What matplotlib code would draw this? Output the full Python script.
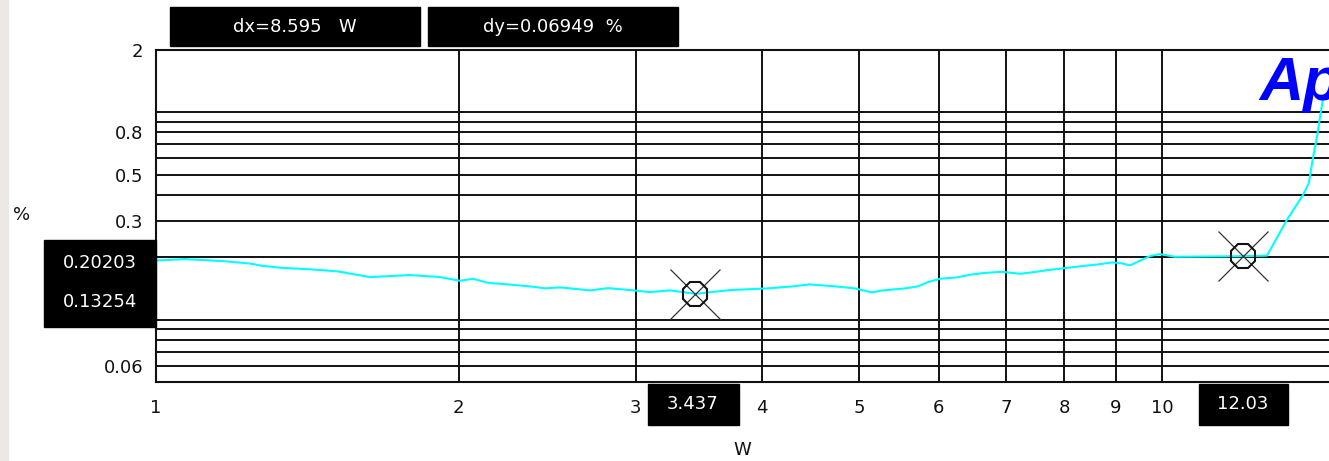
import matplotlib
matplotlib.use('Agg')
import matplotlib.pyplot as plt
from matplotlib.patches import Rectangle

# ---------------- data ----------------
power_w = [1.000, 1.069, 1.166, 1.240, 1.275, 1.331, 1.429, 1.517, 1.559, 1.632,
           1.789, 1.916, 2.005, 2.066, 2.138, 2.259, 2.371, 2.436, 2.521, 2.700,
           2.814, 2.960, 3.098, 3.244, 3.437, 3.721, 4.058, 4.297, 4.459, 4.732,
           4.953, 5.045, 5.148, 5.281, 5.553, 5.721, 5.853, 6.017, 6.255, 6.444,
           6.640, 6.934, 7.225, 7.462, 7.705, 8.011, 8.328, 8.640, 8.922, 9.126,
           9.295, 9.509, 9.730, 9.954, 10.30, 12.03, 12.72, 13.31, 13.81, 14.00,
           14.13, 14.26, 14.45]
thd_pct = [0.1925, 0.1956, 0.1913, 0.1861, 0.1816, 0.1776, 0.1744, 0.1706, 0.1665, 0.1602,
           0.1638, 0.1602, 0.1537, 0.1572, 0.1503, 0.1471, 0.1439, 0.1413, 0.1429, 0.1382,
           0.1417, 0.1387, 0.1356, 0.1382, 0.1330, 0.1387, 0.1413, 0.1445, 0.1477, 0.1445,
           0.1413, 0.1382, 0.1352, 0.1382, 0.1413, 0.1445, 0.1515, 0.1572, 0.1597, 0.1644,
           0.1675, 0.1699, 0.1661, 0.1693, 0.1731, 0.1770, 0.1810, 0.1844, 0.1886, 0.1865,
           0.1824, 0.1920, 0.2022, 0.2068, 0.2007, 0.2020, 0.2033, 0.3016, 0.398, 0.455,
           0.600, 0.758, 1.14]

cursor_x = [3.437, 12.03]
cursor_y = [0.13254, 0.20203]
cursor_x_labels = ['3.437', '12.03']
cursor_y_labels = ['0.20203', '0.13254']
dx_text = 'dx=8.595   W'
dy_text = 'dy=0.06949  %'

x_tick_vals = [1, 2, 3, 4, 5, 6, 7, 8, 9, 10]
x_tick_labels = ['1', '2', '3', '4', '5', '6', '7', '8', '9', '10']
y_tick_vals = [2, 0.8, 0.5, 0.3, 0.06]
y_tick_labels = ['2', '0.8', '0.5', '0.3', '0.06']
y_grid_vals = [0.07, 0.08, 0.09, 0.1, 0.2, 0.4, 0.6, 0.7, 0.9, 1.0]
x_label = 'W'
y_label = '%'

# ---------------- figure ----------------
W, H = 1329, 461
plt.rcParams['font.family'] = ['DejaVu Sans']
fig = plt.figure(figsize=(W / 100, H / 100), dpi=100)
fig.patch.set_facecolor('white')


def frect(x0, y0, x1, y1):
    """pixel box (top-left origin) -> figure fraction rect"""
    return [x0 / W, 1 - y1 / H, (x1 - x0) / W, (y1 - y0) / H]


ax = fig.add_axes(frect(156, 49.6, 1329, 382))
ax.set_xscale('log')
ax.set_yscale('log')
ax.set_xlim(1, 14.66)
ax.set_ylim(0.05, 2)
ax.set_facecolor('white')

# ticks / grid
ax.set_xticks(x_tick_vals)
ax.set_xticklabels(x_tick_labels)
ax.set_xticks([], minor=True)
ax.set_yticks(y_tick_vals)
ax.set_yticklabels(y_tick_labels)
ax.set_yticks(y_grid_vals, minor=True)
ax.set_yticklabels([''] * len(y_grid_vals), minor=True)
ax.tick_params(axis='both', which='both', length=0, labelsize=13, colors='#111111')
ax.tick_params(axis='x', pad=12)
ax.tick_params(axis='y', pad=9)
ax.xaxis.grid(True, which='major', color='#111111', lw=1.4)
ax.yaxis.grid(True, which='both', color='#111111', lw=1.4)
ax.set_axisbelow(True)

# nudge y tick labels up slightly like the original
for lab in ax.get_yticklabels():
    lab.set_verticalalignment('center_baseline')

for s in ['left', 'top', 'bottom']:
    ax.spines[s].set_color('#111111')
    ax.spines[s].set_linewidth(1.5)
ax.spines['right'].set_visible(False)

# curve
ax.plot(power_w, thd_pct, color='#00ffff', lw=1.5, zorder=3, clip_on=False)

# cursors
for cx, cy in zip(cursor_x, cursor_y):
    ax.plot([cx], [cy], marker='x', ms=36, mew=0.9, color='#333333', zorder=4)
    ax.plot([cx], [cy], marker='8', ms=18, mew=1.5, mfc='none', mec='#111111', zorder=4)

# logo (cut by the right edge, as in the original)
fig.text(1259 / W, 1 - 100 / H, 'Ap', fontsize=44, fontweight='bold', style='italic',
         color='#0000ff', family='Liberation Sans', va='baseline', ha='left')

# left grey strip
fig.patches.append(Rectangle((0, 0), 8 / W, 1, transform=fig.transFigure,
                             color='#ebe8e5', zorder=0))


def box(x0, y0, x1, y1):
    fig.patches.append(Rectangle((x0 / W, 1 - y1 / H), (x1 - x0) / W, (y1 - y0) / H,
                                 transform=fig.transFigure, color='black', zorder=5))


def btext(x, y, s):
    fig.text(x / W, 1 - y / H, s, color='white', fontsize=13, ha='center', va='center',
             zorder=6)


# top readouts
box(170, 7, 420, 46)
btext(295, 27, dx_text)
box(428, 7, 678, 46)
btext(553, 27, dy_text)

# y readout
box(44, 240, 156, 327)
btext(100, 263, cursor_y_labels[0])
btext(100, 302, cursor_y_labels[1])

# x readouts
box(648, 384, 739, 425)
btext(693, 404, cursor_x_labels[0])
box(1199, 384, 1288, 425)
btext(1243, 404, cursor_x_labels[1])

# axis labels
fig.text(22 / W, 1 - 215 / H, y_label, fontsize=13, ha='center', va='center', color='#111111')
fig.text(742 / W, 1 - 450 / H, x_label, fontsize=13, ha='center', va='center', color='#111111')

fig.savefig('out.png', dpi=100)
